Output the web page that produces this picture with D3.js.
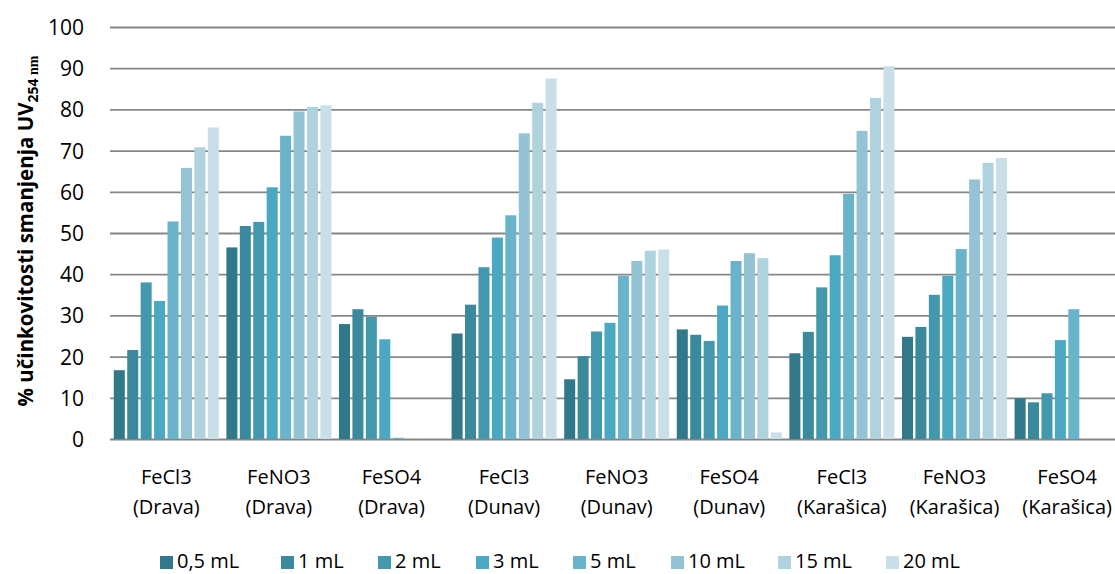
<!DOCTYPE html>
<html><head><meta charset="utf-8">
<script src="https://cdn.jsdelivr.net/npm/d3@7"></script>
<style>body{margin:0;background:#fff;} svg{display:block;}</style>
</head><body>
<svg id="c" width="1115" height="574"></svg>
<script>
const categories = ["FeCl3|(Drava)","FeNO3|(Drava)","FeSO4|(Drava)","FeCl3|(Dunav)","FeNO3|(Dunav)","FeSO4|(Dunav)","FeCl3|(Karašica)","FeNO3|(Karašica)","FeSO4|(Karašica)"];
const seriesNames = ["0,5 mL","1 mL","2 mL","3 mL","5 mL","10 mL","15 mL","20 mL"];
const s05 = [16.7, 46.5, 27.9, 25.6, 14.5, 26.6, 20.8, 24.8, 9.9];
const s1  = [21.6, 51.7, 31.5, 32.6, 20.1, 25.3, 26.0, 27.2, 8.9];
const s2  = [38.0, 52.7, 29.7, 41.7, 26.1, 23.8, 36.8, 35.0, 11.1];
const s3  = [33.5, 61.1, 24.2, 48.9, 28.2, 32.4, 44.6, 39.6, 24.0];
const s5  = [52.8, 73.6, 0.3, 54.3, 39.6, 43.2, 59.5, 46.1, 31.5];
const s10 = [65.8, 79.5, 0, 74.2, 43.2, 45.1, 74.8, 63.0, 0];
const s15 = [70.8, 80.6, 0, 81.6, 45.7, 43.9, 82.8, 67.0, 0];
const s20 = [75.6, 81.0, 0, 87.5, 46.0, 1.6, 90.5, 68.2, 0];
const seriesValues = [s05, s1, s2, s3, s5, s10, s15, s20];
const yTicks = [0,10,20,30,40,50,60,70,80,90,100];
const colors = ["#31788A","#3A899D","#4398AD","#4AA8C2","#6AB4CB","#93C3D5","#AFD2DF","#C8DFE7"];

const svg = d3.select("#c");
const left = 110, groupW = 112.6;
const x0 = d3.scaleBand().domain(categories).range([left, left + groupW*categories.length]).paddingInner(0).paddingOuter(0);
const x1 = d3.scaleBand().domain(seriesNames).range([0, x0.bandwidth()]).paddingInner(0.18).paddingOuter(0.282);
const y = d3.scaleLinear().domain([0,100]).range([439, 27]);

// gridlines
const grid = d3.axisLeft(y).tickValues(yTicks).tickSize(-(1115-left)).tickFormat("");
const gg = svg.append("g").attr("transform",`translate(${left},0)`).call(grid);
gg.select(".domain").remove();
gg.selectAll("line").attr("stroke","#868686").attr("stroke-width",1.8).attr("x1",0).attr("x2",1115-left);

// y labels
const ya = d3.axisLeft(y).tickValues(yTicks).tickSize(0).tickPadding(0);
const yg = svg.append("g").attr("transform",`translate(84,0)`).call(ya);
yg.select(".domain").remove();
yg.selectAll("text").attr("font-family","'Open Sans'").attr("font-size",21).attr("fill","#000").attr("dy","0.36em");

// bars
const gs = svg.append("g").selectAll("g").data(categories).join("g")
  .attr("transform", d => `translate(${x0(d)},0)`);
gs.selectAll("rect").data((d,i) => seriesNames.map((s,j) => ({s, v: seriesValues[j][i], j})))
  .join("rect")
  .attr("x", d => x1(d.s)).attr("width", x1.bandwidth())
  .attr("y", d => y(d.v)).attr("height", d => y(0)-y(d.v))
  .attr("fill", d => colors[d.j]);

// x labels
const xl = svg.append("g").selectAll("text").data(categories).join("text")
  .attr("x", d => x0(d) + x0.bandwidth()/2).attr("y", 484)
  .attr("text-anchor","middle").attr("font-family","'Open Sans'").attr("font-size",20).attr("fill","#000");
xl.append("tspan").attr("x", d => x0(d) + x0.bandwidth()/2).text(d => d.split("|")[0]);
xl.append("tspan").attr("x", d => x0(d) + x0.bandwidth()/2).attr("dy", 30).text(d => d.split("|")[1]);

// y title
const t = svg.append("text").attr("transform","translate(33,231) rotate(-90)")
  .attr("text-anchor","middle").attr("font-family","'Open Sans'").attr("font-weight","bold").attr("font-size",20.5).attr("fill","#000");
t.append("tspan").text("% učinkovitosti smanjenja UV");
t.append("tspan").attr("font-size",14).attr("dy",5).text("254");
t.append("tspan").attr("font-size",14).attr("font-family","'Liberation Serif'").text(" nm");

// legend
const legX = [160, 281, 378, 476, 573, 671, 778, 886];
const lg = svg.append("g").selectAll("g").data(seriesNames).join("g")
  .attr("transform", (d,i) => `translate(${legX[i]},0)`);
lg.append("rect").attr("x",0).attr("y",556).attr("width",13).attr("height",13).attr("fill",(d,i)=>colors[i]);
lg.append("text").attr("x",17).attr("y",568).attr("font-family","'Open Sans'").attr("font-size",20).attr("fill","#000").text(d=>d);
</script>
</body></html>
